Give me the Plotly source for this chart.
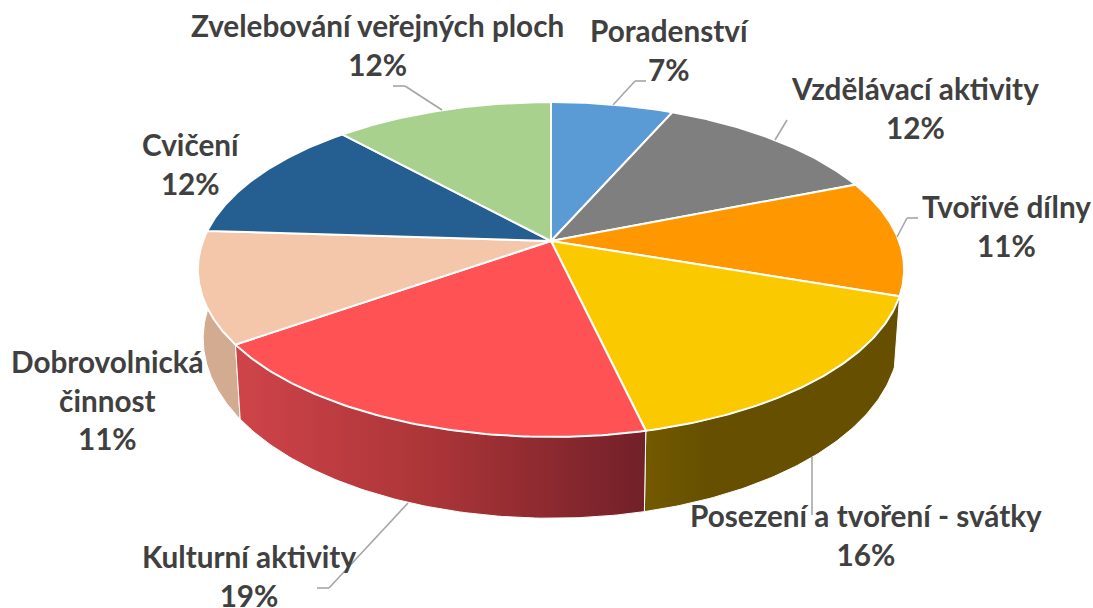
import numpy as np
import plotly.graph_objects as go

categories = ["Poradenství", "Vzdělávací aktivity", "Tvořivé dílny", "Posezení a tvoření - svátky",
              "Kulturní aktivity", "Dobrovolnická činnost", "Cvičení", "Zvelebování veřejných ploch"]
values = [6.6, 12.4, 11.2, 16.15, 18.9, 10.75, 12.2, 11.8]
colors = ["#5B9BD5", "#7F7F7F", "#FF9800", "#FAC900", "#FF5254", "#F4C6AA", "#255E91", "#A9D18E"]
wall_scales = {
    3: [[0, "#735A00"], [0.25, "#665000"], [1, "#665000"]],
    4: [[0, "#CF4449"], [0.5, "#A93437"], [1, "#722029"]],
    5: [[0, "#D2AB91"], [1, "#D2AB91"]],
}
label_lines = ["Poradenství", "Vzdělávací aktivity", "Tvořivé dílny", "Posezení a tvoření - svátky",
               "Kulturní aktivity", "Dobrovolnická<br>činnost", "Cvičení", "Zvelebování veřejných ploch"]
label_pos = [(670, 50), (915, 108), (1006, 226), (866, 535), (249, 576), (107, 400), (191, 164), (377, 45)]
leaders = [
    [(613, 105), (635, 81), (646, 81)],
    [(775, 140), (787, 120)],
    [(897, 237), (907, 218), (918, 218)],
    [(812, 457), (812, 515)],
    [(408, 503), (329, 588), (317, 588)],
    [(442, 110), (405, 86), (393, 86)],
]

CX, CY, A, B, K = 551.0, 241.0, 348.0, 162.6, 0.17


def top(theta):
    u, v = np.sin(theta), np.cos(theta)
    d = 1 + K * v
    return CX + A * u / d, CY - B * v / d


def base(x, y):
    return CX + (x - CX) * 0.985, y * 1.074 + 49


edges = np.radians(np.concatenate([[0], np.cumsum(values)]) * 3.6)
fig = go.Figure()

for i in [5, 3, 4]:
    th = np.linspace(edges[i], edges[i + 1], 90)
    x, y = top(th)
    bx, by = base(x, y)
    fig.add_trace(go.Scatter(
        x=np.concatenate([x, bx[::-1], x[:1]]), y=np.concatenate([y, by[::-1], y[:1]]),
        mode="lines", fill="toself", line=dict(color="white", width=1),
        fillgradient=dict(type="horizontal", colorscale=wall_scales[i]),
        hoverinfo="skip", showlegend=False))

for i, c in enumerate(colors):
    th = np.linspace(edges[i], edges[i + 1], 90)
    x, y = top(th)
    fig.add_trace(go.Scatter(
        x=np.concatenate([[CX], x, [CX]]), y=np.concatenate([[CY], y, [CY]]),
        mode="lines", fill="toself", fillcolor=c, line=dict(color="white", width=2),
        name=categories[i], hoverinfo="name", showlegend=False))

shapes = []
for pts in leaders:
    for (x0, y0), (x1, y1) in zip(pts[:-1], pts[1:]):
        shapes.append(dict(type="line", x0=x0, y0=y0, x1=x1, y1=y1, layer="above",
                           line=dict(color="#A6A6A6", width=1.6)))

annotations = [
    dict(x=p[0], y=p[1], text=f"<b>{t}<br>{round(v)}%</b>", showarrow=False, xanchor="center", yanchor="middle",
         font=dict(family="Lato", size=29.7, color="#404040"))
    for t, v, p in zip(label_lines, values, label_pos)
]

fig.update_layout(
    width=1093, height=608, margin=dict(l=0, r=0, t=0, b=0), paper_bgcolor="white", plot_bgcolor="white",
    xaxis=dict(range=[0, 1093], visible=False), yaxis=dict(range=[608, 0], visible=False),
    shapes=shapes, annotations=annotations, showlegend=False)
fig.write_html("out.html", config=dict(displayModeBar=False),
               post_script="document.body.style.margin='0';document.body.style.overflow='hidden';")
